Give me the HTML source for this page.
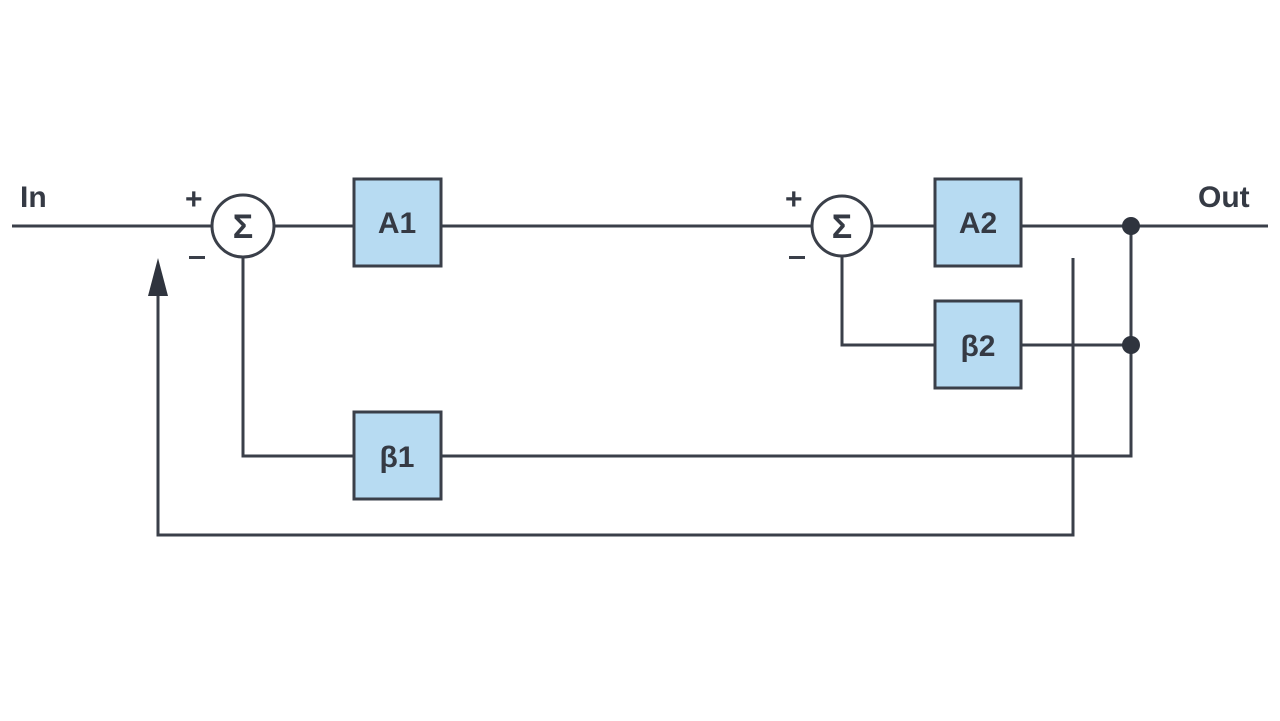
<!DOCTYPE html>
<html><head><meta charset="utf-8"><style>
html,body{margin:0;padding:0;background:#fff;}
svg{display:block;}
text{font-family:"Liberation Sans",sans-serif;font-weight:bold;fill:#353a44;}
</style></head><body>
<svg width="1280" height="721" viewBox="0 0 1280 721">
<g stroke="#3a3f49" stroke-width="3" fill="none">
<line x1="12" y1="226" x2="212" y2="226"/>
<line x1="274" y1="226" x2="354" y2="226"/>
<line x1="441" y1="226" x2="812" y2="226"/>
<line x1="872" y1="226" x2="935" y2="226"/>
<line x1="1021" y1="226" x2="1268" y2="226"/>
<polyline points="842,256 842,345 935,345"/>
<line x1="1021" y1="345" x2="1131" y2="345"/>
<polyline points="1131,226 1131,456 441,456"/>
<polyline points="243,257 243,456 354,456"/>
<polyline points="1073,258 1073,535 158,535 158,290"/>
<circle cx="243" cy="226" r="31" fill="#fff"/>
<circle cx="842" cy="226" r="30" fill="#fff"/>
<rect x="354" y="179" width="87" height="87" fill="#b7dbf2"/>
<rect x="935" y="179" width="86" height="87" fill="#b7dbf2"/>
<rect x="935" y="301" width="86" height="87" fill="#b7dbf2"/>
<rect x="354" y="412" width="87" height="87" fill="#b7dbf2"/>
</g>
<polygon points="158,258 148,296 168,296" fill="#2f343e"/>
<circle cx="1131" cy="226" r="9" fill="#2f343e"/>
<circle cx="1131" cy="345" r="9" fill="#2f343e"/>
<g font-size="30" text-anchor="middle">
<text x="397" y="233">A1</text>
<text x="978" y="233">A2</text>
<text x="978" y="356">β2</text>
<text x="397" y="467">β1</text>
</g>
<g font-size="34" text-anchor="middle">
<text x="243" y="238">Σ</text>
<text x="842" y="238">Σ</text>
</g>
<text x="20" y="207" font-size="30">In</text>
<text x="1198" y="207" font-size="30">Out</text>
<text x="185" y="209" font-size="30">+</text>
<text x="785" y="209" font-size="30">+</text>
<rect x="189" y="256" width="16" height="3" fill="#3a3f49"/>
<rect x="789" y="256" width="16" height="3" fill="#3a3f49"/>
</svg>
</body></html>
